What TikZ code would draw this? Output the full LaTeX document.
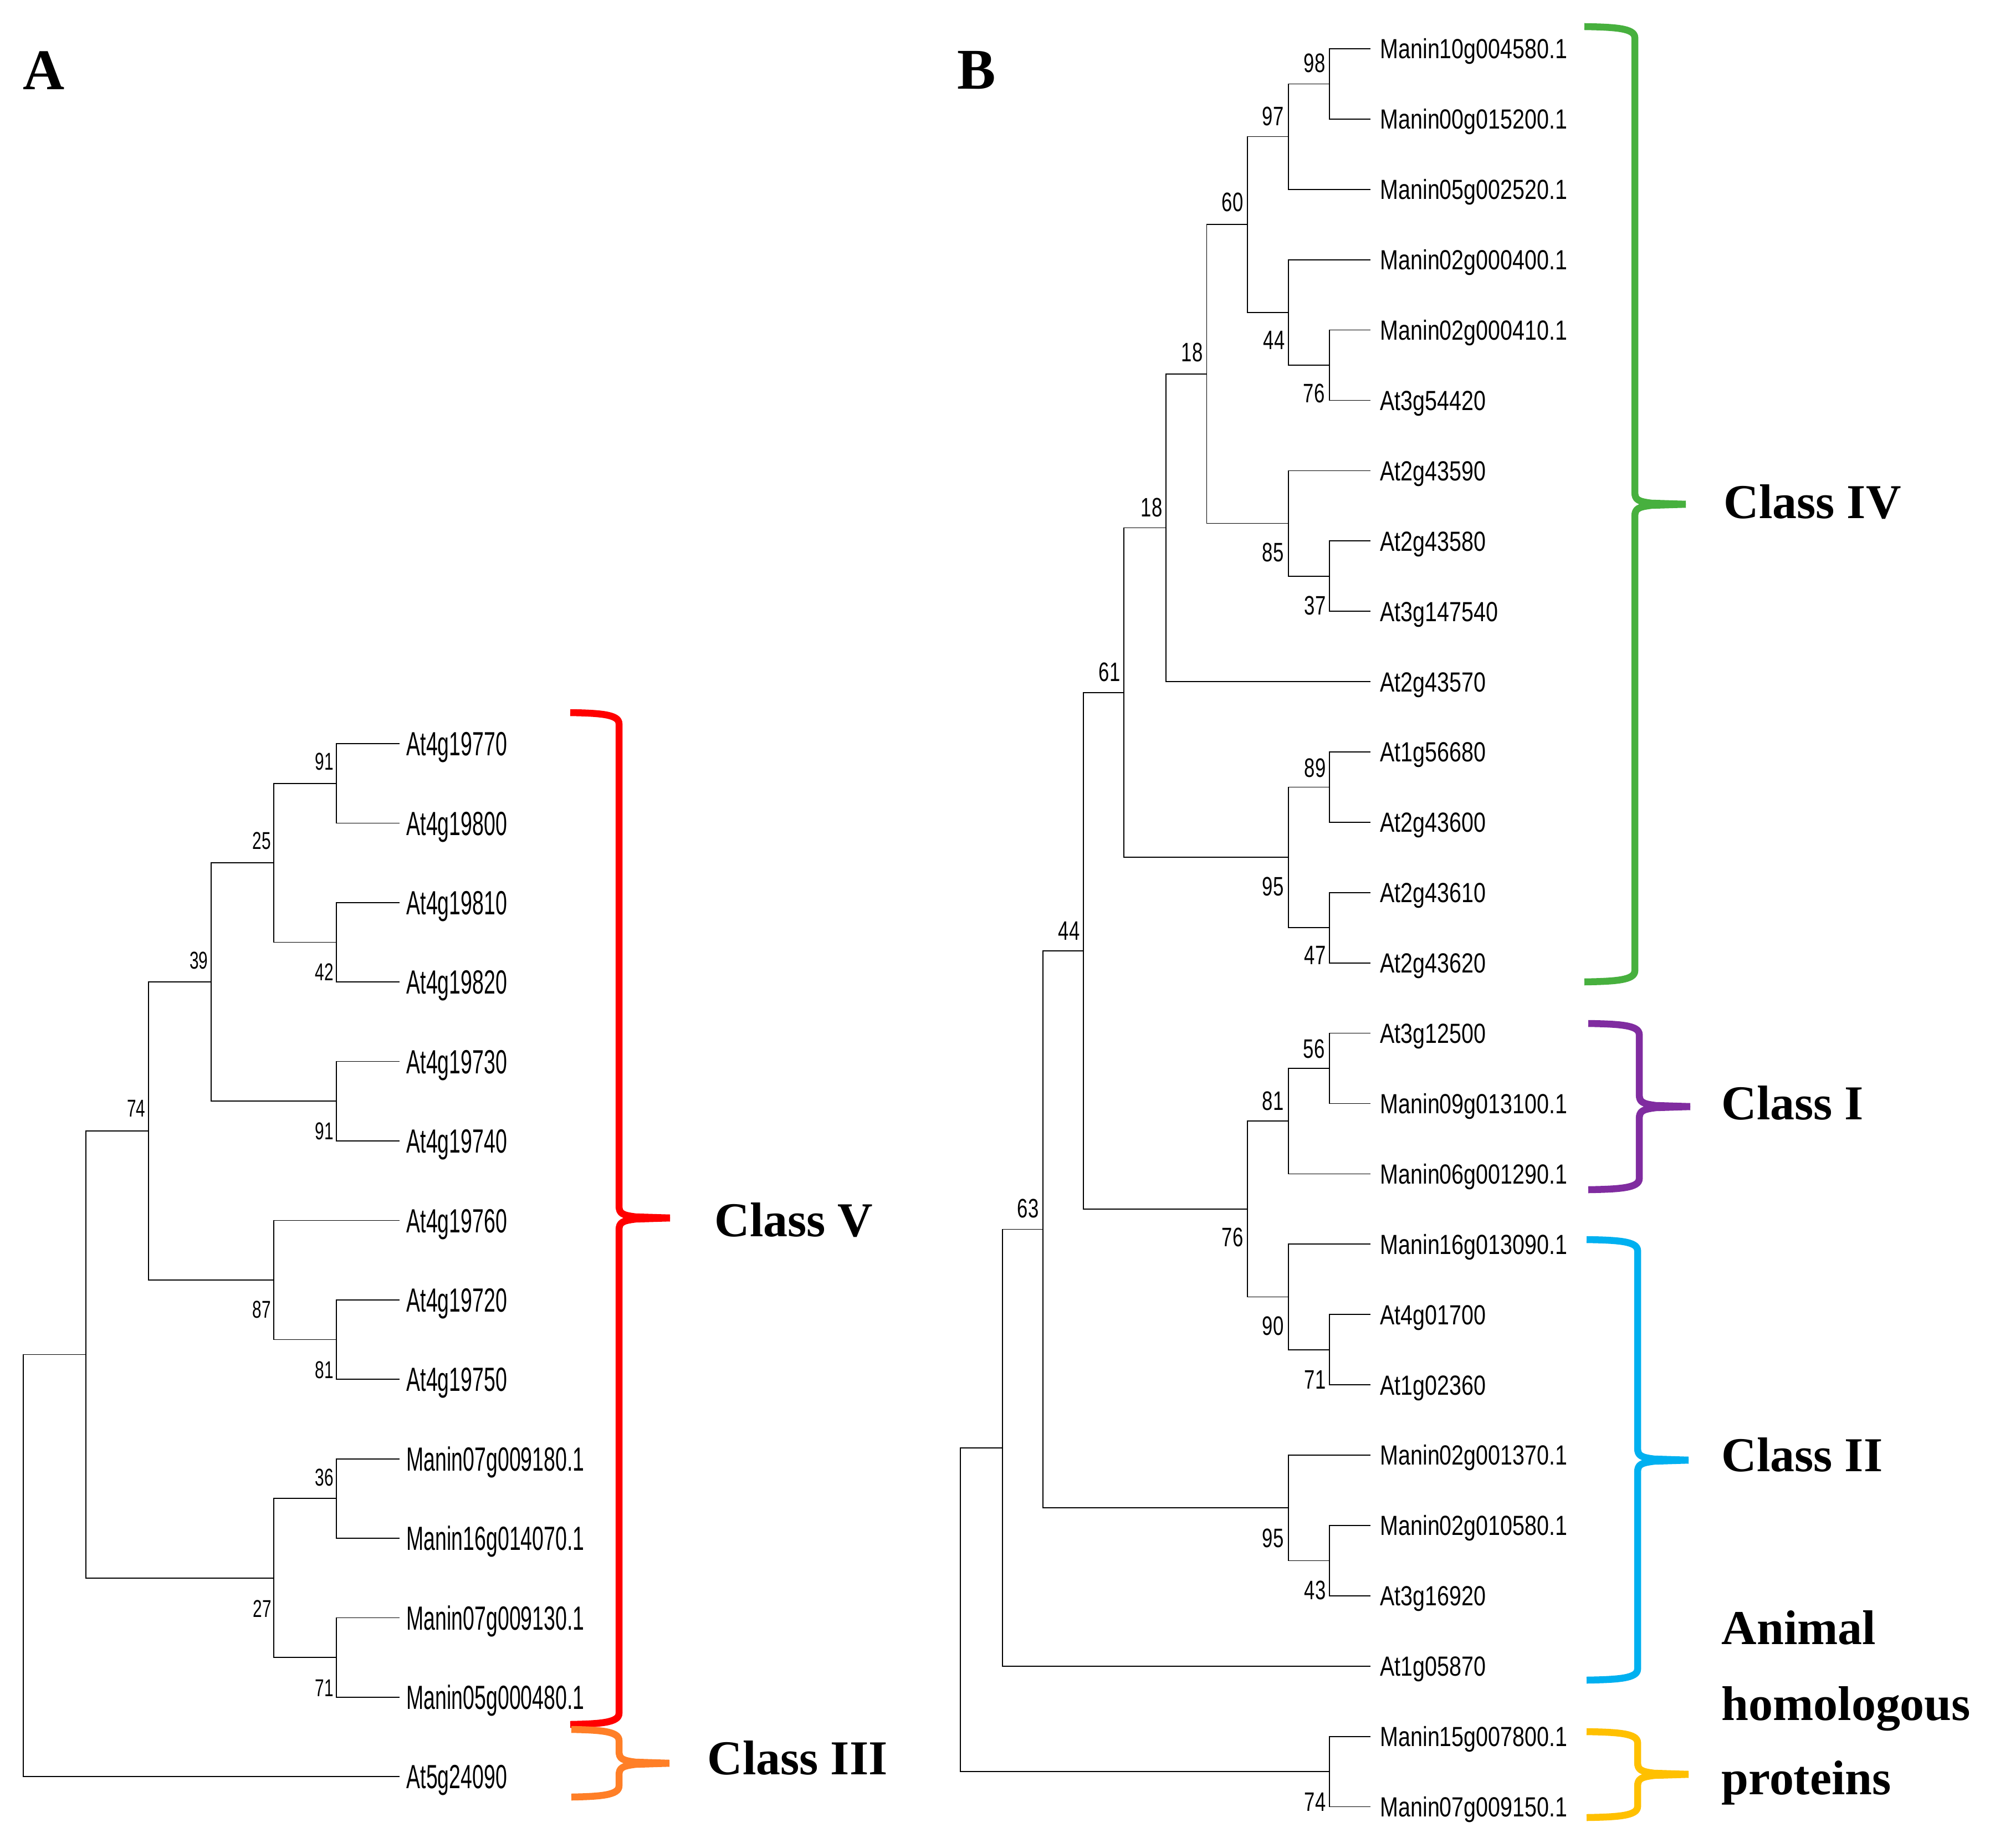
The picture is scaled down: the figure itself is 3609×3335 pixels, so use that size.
\documentclass[tikz,border=0pt]{standalone}
\usepackage{fontspec}
\setmainfont{Liberation Serif}
\newfontfamily\leafAfont[FakeStretch=0.62]{Liberation Sans}
\newfontfamily\leafBfont[FakeStretch=0.79]{Liberation Sans}
\newfontfamily\bootAfont[FakeStretch=0.68]{Liberation Sans}
\newfontfamily\bootBfont[FakeStretch=0.72]{Liberation Sans}
\definecolor{cV}{RGB}{255,0,0}
\definecolor{cIII}{RGB}{255,127,39}
\definecolor{cIV}{RGB}{71,176,62}
\definecolor{cI}{RGB}{128,44,160}
\definecolor{cII}{RGB}{0,176,240}
\definecolor{cAn}{RGB}{255,192,0}
\tikzset{
  branch/.style={line width=0.5pt, black},
  leafA/.style={anchor=west, inner xsep=3.4pt, inner ysep=0pt, text height=12.3pt, text depth=0pt,
    font=\leafAfont\fontsize{17.2pt}{20pt}\selectfont},
  leafB/.style={anchor=west, inner xsep=4.8pt, inner ysep=0pt, text height=10.2pt, text depth=0pt,
    font=\leafBfont\fontsize{14.2pt}{17pt}\selectfont},
  bootA/.style={inner sep=0pt, font=\bootAfont\fontsize{12.5pt}{15pt}\selectfont},
  bootB/.style={inner sep=0pt, font=\bootBfont\fontsize{13.7pt}{16pt}\selectfont},
  classlab/.style={anchor=base west, inner sep=0pt, font=\bfseries\fontsize{25pt}{30pt}\selectfont},
  panellab/.style={inner sep=0pt, font=\bfseries\fontsize{29.6pt}{34pt}\selectfont},
  brace/.style={line width=3.56pt, line join=round}
}
\newcommand{\classbrace}[7]{%
  \draw[brace,#1] (#2,#5) .. controls (#3-35,#5+1) and (#3,#5+3) .. (#3,#5+20)
    -- (#3,#6-22) .. controls (#3,#6-8) and (#3+6,#6-5) .. (#3+30,#6-2) -- (#4,#6);
  \draw[brace,#1] (#2,#7) .. controls (#3-35,#7-1) and (#3,#7-3) .. (#3,#7-20)
    -- (#3,#6+22) .. controls (#3,#6+8) and (#3+6,#6+5) .. (#3+30,#6+2) -- (#4,#6);
}
\begin{document}
\begin{tikzpicture}[x=0.1mm, y=-0.1mm]
\useasboundingbox (0,0) rectangle (3609,3335);

% ---------------- Panel A ----------------
\node[panellab] (pA) at (78.7,127.2) {A};

\node[leafA] (A0) at (721,1342) {At4g19770};
\node[leafA] (A1) at (721,1485.4) {At4g19800};
\node[leafA] (A2) at (721,1628.8) {At4g19810};
\node[leafA] (A3) at (721,1772.2) {At4g19820};
\node[leafA] (A4) at (721,1915.6) {At4g19730};
\node[leafA] (A5) at (721,2059) {At4g19740};
\node[leafA] (A6) at (721,2202.4) {At4g19760};
\node[leafA] (A7) at (721,2345.8) {At4g19720};
\node[leafA] (A8) at (721,2489.2) {At4g19750};
\node[leafA] (A9) at (721,2632.6) {Manin07g009180.1};
\node[leafA] (A10) at (721,2776) {Manin16g014070.1};
\node[leafA] (A11) at (721,2919.4) {Manin07g009130.1};
\node[leafA] (A12) at (721,3062.8) {Manin05g000480.1};
\node[leafA] (A13) at (721,3206.2) {At5g24090};

\coordinate (a91) at (607,1413.7);
\coordinate (a42) at (607,1700.5);
\coordinate (a25) at (494,1557.1);
\coordinate (a91b) at (607,1987.3);
\coordinate (a39) at (381,1772.2);
\coordinate (a81) at (607,2417.5);
\coordinate (a87) at (494,2310);
\coordinate (a74) at (268,2041.1);
\coordinate (a36) at (607,2704.3);
\coordinate (a71) at (607,2991.1);
\coordinate (a27) at (494,2847.7);
\coordinate (a155) at (155,2444.4);
\coordinate (aroot) at (42,2825.3);

\draw[branch] (a91) |- (A0.west);  \draw[branch] (a91) |- (A1.west);
\draw[branch] (a42) |- (A2.west);  \draw[branch] (a42) |- (A3.west);
\draw[branch] (a25) |- (a91);      \draw[branch] (a25) |- (a42);
\draw[branch] (a91b) |- (A4.west); \draw[branch] (a91b) |- (A5.west);
\draw[branch] (a39) |- (a25);      \draw[branch] (a39) |- (a91b);
\draw[branch] (a81) |- (A7.west);  \draw[branch] (a81) |- (A8.west);
\draw[branch] (a87) |- (A6.west);  \draw[branch] (a87) |- (a81);
\draw[branch] (a74) |- (a39);      \draw[branch] (a74) |- (a87);
\draw[branch] (a36) |- (A9.west);  \draw[branch] (a36) |- (A10.west);
\draw[branch] (a71) |- (A11.west); \draw[branch] (a71) |- (A12.west);
\draw[branch] (a27) |- (a36);      \draw[branch] (a27) |- (a71);
\draw[branch] (a155) |- (a74);     \draw[branch] (a155) |- (a27);
\draw[branch] (aroot) |- (a155);   \draw[branch] (aroot) |- (A13.west);

\node[bootA] (tA1) at (585,1374) {91};
\node[bootA] (tA2) at (472,1517) {25};
\node[bootA] (tA3) at (359,1733) {39};
\node[bootA] (tA4) at (585,1754) {42};
\node[bootA] (tA5) at (246,2000) {74};
\node[bootA] (tA6) at (585,2041) {91};
\node[bootA] (tA7) at (472,2363) {87};
\node[bootA] (tA8) at (585,2472) {81};
\node[bootA] (tA9) at (585,2666) {36};
\node[bootA] (tA10) at (473,2903) {27};
\node[bootA] (tA11) at (585,3046) {71};

\classbrace{cV}{1029}{1117}{1209}{1286}{2198}{3112}
\classbrace{cIII}{1031}{1117}{1208}{3121}{3182}{3243}
\node[classlab] (tV) at (1289,2231) {Class V};
\node[classlab] (tIII) at (1276,3202) {Class III};

% ---------------- Panel B ----------------
\node[panellab] (pB) at (1762,126.5) {B};

\node[leafB] (B0) at (2473,88) {Manin10g004580.1};
\node[leafB] (B1) at (2473,214.9) {Manin00g015200.1};
\node[leafB] (B2) at (2473,341.8) {Manin05g002520.1};
\node[leafB] (B3) at (2473,468.7) {Manin02g000400.1};
\node[leafB] (B4) at (2473,595.6) {Manin02g000410.1};
\node[leafB] (B5) at (2473,722.5) {At3g54420};
\node[leafB] (B6) at (2473,849.4) {At2g43590};
\node[leafB] (B7) at (2473,976.3) {At2g43580};
\node[leafB] (B8) at (2473,1103.2) {At3g147540};
\node[leafB] (B9) at (2473,1230.1) {At2g43570};
\node[leafB] (B10) at (2473,1357) {At1g56680};
\node[leafB] (B11) at (2473,1483.9) {At2g43600};
\node[leafB] (B12) at (2473,1610.8) {At2g43610};
\node[leafB] (B13) at (2473,1737.7) {At2g43620};
\node[leafB] (B14) at (2473,1864.6) {At3g12500};
\node[leafB] (B15) at (2473,1991.5) {Manin09g013100.1};
\node[leafB] (B16) at (2473,2118.4) {Manin06g001290.1};
\node[leafB] (B17) at (2473,2245.3) {Manin16g013090.1};
\node[leafB] (B18) at (2473,2372.2) {At4g01700};
\node[leafB] (B19) at (2473,2499.1) {At1g02360};
\node[leafB] (B20) at (2473,2626) {Manin02g001370.1};
\node[leafB] (B21) at (2473,2752.9) {Manin02g010580.1};
\node[leafB] (B22) at (2473,2879.8) {At3g16920};
\node[leafB] (B23) at (2473,3006.7) {At1g05870};
\node[leafB] (B24) at (2473,3133.6) {Manin15g007800.1};
\node[leafB] (B25) at (2473,3260.5) {Manin07g009150.1};

\coordinate (b98) at (2399,151.45);
\coordinate (b97) at (2325,246.6);
\coordinate (b76) at (2399,659.05);
\coordinate (b44) at (2325,563.9);
\coordinate (b60) at (2251,405.3);
\coordinate (b37) at (2399,1039.75);
\coordinate (b85) at (2325,944.6);
\coordinate (b18) at (2177.5,674.9);
\coordinate (b18l) at (2104,952.5);
\coordinate (b89) at (2399,1420.45);
\coordinate (b47) at (2399,1674.25);
\coordinate (b95) at (2325,1547.35);
\coordinate (b61) at (2028,1249.9);
\coordinate (b56) at (2399,1928.05);
\coordinate (b81) at (2325,2023.2);
\coordinate (b71) at (2399,2435.65);
\coordinate (b90) at (2325,2340.5);
\coordinate (b76b) at (2251,2181.85);
\coordinate (b44b) at (1955,1715.9);
\coordinate (b43) at (2399,2816.35);
\coordinate (b95b) at (2325,2721.2);
\coordinate (b63) at (1882,2218.5);
\coordinate (b1809) at (1809,2612.6);
\coordinate (b74) at (2399,3197.05);
\coordinate (broot) at (1733,2904.8);

\draw[branch] (b98) |- (B0.west);   \draw[branch] (b98) |- (B1.west);
\draw[branch] (b97) |- (b98);       \draw[branch] (b97) |- (B2.west);
\draw[branch] (b76) |- (B4.west);   \draw[branch] (b76) |- (B5.west);
\draw[branch] (b44) |- (B3.west);   \draw[branch] (b44) |- (b76);
\draw[branch] (b60) |- (b97);       \draw[branch] (b60) |- (b44);
\draw[branch] (b37) |- (B7.west);   \draw[branch] (b37) |- (B8.west);
\draw[branch] (b85) |- (B6.west);   \draw[branch] (b85) |- (b37);
\draw[branch] (b18) |- (b60);       \draw[branch] (b18) |- (b85);
\draw[branch] (b18l) |- (b18);      \draw[branch] (b18l) |- (B9.west);
\draw[branch] (b89) |- (B10.west);  \draw[branch] (b89) |- (B11.west);
\draw[branch] (b47) |- (B12.west);  \draw[branch] (b47) |- (B13.west);
\draw[branch] (b95) |- (b89);       \draw[branch] (b95) |- (b47);
\draw[branch] (b61) |- (b18l);      \draw[branch] (b61) |- (b95);
\draw[branch] (b56) |- (B14.west);  \draw[branch] (b56) |- (B15.west);
\draw[branch] (b81) |- (b56);       \draw[branch] (b81) |- (B16.west);
\draw[branch] (b71) |- (B18.west);  \draw[branch] (b71) |- (B19.west);
\draw[branch] (b90) |- (B17.west);  \draw[branch] (b90) |- (b71);
\draw[branch] (b76b) |- (b81);      \draw[branch] (b76b) |- (b90);
\draw[branch] (b44b) |- (b61);      \draw[branch] (b44b) |- (b76b);
\draw[branch] (b43) |- (B21.west);  \draw[branch] (b43) |- (B22.west);
\draw[branch] (b95b) |- (B20.west); \draw[branch] (b95b) |- (b43);
\draw[branch] (b63) |- (b44b);      \draw[branch] (b63) |- (b95b);
\draw[branch] (b1809) |- (b63);     \draw[branch] (b1809) |- (B23.west);
\draw[branch] (b74) |- (B24.west);  \draw[branch] (b74) |- (B25.west);
\draw[branch] (broot) |- (b1809);   \draw[branch] (broot) |- (b74);

\node[bootB] (tB1) at (2372,114) {98};
\node[bootB] (tB2) at (2297,210) {97};
\node[bootB] (tB3) at (2224,365) {60};
\node[bootB] (tB4) at (2299,614) {44};
\node[bootB] (tB5) at (2371,710) {76};
\node[bootB] (tB6) at (2151,636) {18};
\node[bootB] (tB7) at (2297,997) {85};
\node[bootB] (tB8) at (2373,1093) {37};
\node[bootB] (tB9) at (2078,916) {18};
\node[bootB] (tB10) at (2002,1213) {61};
\node[bootB] (tB11) at (2373,1386) {89};
\node[bootB] (tB12) at (2297,1600) {95};
\node[bootB] (tB13) at (2373,1724) {47};
\node[bootB] (tB14) at (1929,1680) {44};
\node[bootB] (tB15) at (2371,1893) {56};
\node[bootB] (tB16) at (2297,1987) {81};
\node[bootB] (tB17) at (1855,2181) {63};
\node[bootB] (tB18) at (2224,2233) {76};
\node[bootB] (tB19) at (2297,2393) {90};
\node[bootB] (tB20) at (2373,2490) {71};
\node[bootB] (tB21) at (2297,2776) {95};
\node[bootB] (tB22) at (2373,2870) {43};
\node[bootB] (tB23) at (2373,3252) {74};

\classbrace{cIV}{2859}{2950}{3042}{48}{910}{1772}
\classbrace{cI}{2866}{2958}{3050}{1847}{1997}{2147}
\classbrace{cII}{2863}{2955}{3047}{2237}{2635}{3032}
\classbrace{cAn}{2863}{2955}{3047}{3125}{3202}{3280}

\node[classlab] (tIV) at (3110,936) {Class IV};
\node[classlab] (tI) at (3106,2020) {Class I};
\node[classlab] (tII) at (3106,2655) {Class II};
\node[classlab] (tAn1) at (3106,2967) {Animal};
\node[classlab] (tAn2) at (3106,3104) {homologous};
\node[classlab] (tAn3) at (3106,3238) {proteins};
\end{tikzpicture}
\end{document}
